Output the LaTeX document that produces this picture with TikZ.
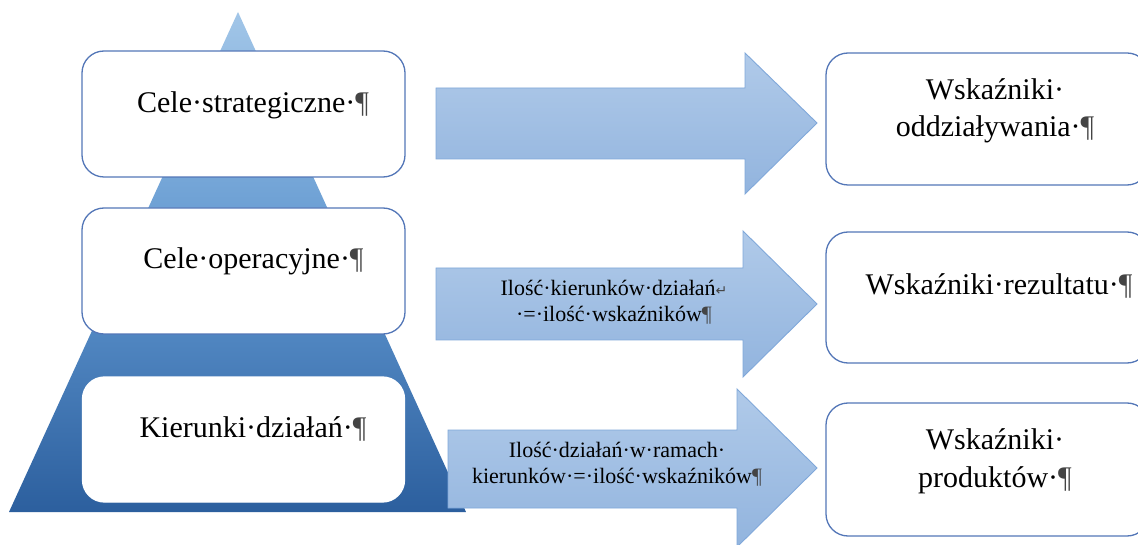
\documentclass[tikz,border=0pt]{standalone}
\usepackage{fontspec}
\setmainfont{Liberation Serif}
\newfontfamily\symfont{DejaVu Sans}
\definecolor{boxblue}{HTML}{5477B8}
\definecolor{arrTop}{HTML}{B0CAE9}
\definecolor{arrBot}{HTML}{92B4DE}
\definecolor{arrLine}{HTML}{80A8DA}
\definecolor{pyrTop}{HTML}{A2C6E8}
\definecolor{pyrMid}{HTML}{5F96CF}
\definecolor{pyrBot}{HTML}{2C5F9E}
\definecolor{pilcrow}{HTML}{444444}
\newcommand{\pil}{{\color{pilcrow}¶}}
\begin{document}
\begin{tikzpicture}[x=1pt,y=-1pt,
  box/.style={draw=boxblue, line width=1.3pt, fill=white, rounded corners=22pt, inner sep=0pt},
  wbox/.style={draw=white, line width=1.3pt, fill=white, rounded corners=22pt, inner sep=0pt},
  bigtxt/.style={font=\fontsize{30}{37.5}\selectfont, inner sep=0pt, align=center, anchor=base},
  smalltxt/.style={font=\fontsize{22}{26}\selectfont, inner sep=0pt, align=center, anchor=base},
  blockarrow/.style={draw=arrLine, line width=0.9pt, top color=arrTop, bottom color=arrBot}
]
\useasboundingbox (0,0) rectangle (1138,545);
\clip (0,0) rectangle (1138,545);
\fill[white] (0,0) rectangle (1138,545);

% pyramid
\path[top color=pyrTop, bottom color=pyrBot, middle color=pyrMid] (238,12) -- (466,512) -- (9,512) -- cycle;

% left boxes
\node[box, minimum width=323pt, minimum height=126pt] (b1) at (243.5,114) {};
\node[box, minimum width=323pt, minimum height=126pt] (b2) at (243.5,271) {};
\node[wbox, minimum width=322pt, minimum height=125pt] (b3) at (243.5,439.5) {};

\node[bigtxt] (t1) at (253,113) {Cele·strategiczne·\pil};
\node[bigtxt] (t2) at (253.5,269) {Cele·operacyjne·\pil};
\node[bigtxt] (t3) at (253,437) {Kierunki·działań·\pil};

% right boxes
\node[box, minimum width=323pt, minimum height=132pt] (r1) at (987.5,119) {};
\node[box, minimum width=323pt, minimum height=131pt] (r2) at (987.5,297.5) {};
\node[box, minimum width=323pt, minimum height=133pt] (r3) at (987.5,469.5) {};

\node[bigtxt] (u1) at (995,137) {Wskaźniki·\\ oddziaływania·\pil};
\node[bigtxt] (u2) at (999,295) {Wskaźniki·rezultatu·\pil};
\node[bigtxt] (u3) at (995,487) {Wskaźniki·\\ produktów·\pil};

% block arrows
\path[blockarrow] (436,88) -- (745,88) -- (745,53) -- (817,123) -- (745,194) -- (745,159) -- (436,159) -- cycle;
\path[blockarrow] (436,268) -- (743,268) -- (743,231) -- (817,304) -- (743,377) -- (743,340) -- (436,340) -- cycle;
\path[blockarrow] (448,430) -- (737,430) -- (737,389) -- (817,468) -- (737,547) -- (737,508) -- (448,508) -- cycle;

\node[smalltxt] (a2) at (614,322) {Ilość·kierunków·działań{\symfont\fontsize{14}{14}\selectfont\color{pilcrow}↵}\\ ·=·ilość·wskaźników\pil};
\node[smalltxt] (a3) at (617,483) {Ilość·działań·w·ramach·\\ kierunków·=·ilość·wskaźników\pil};
\end{tikzpicture}
\end{document}
